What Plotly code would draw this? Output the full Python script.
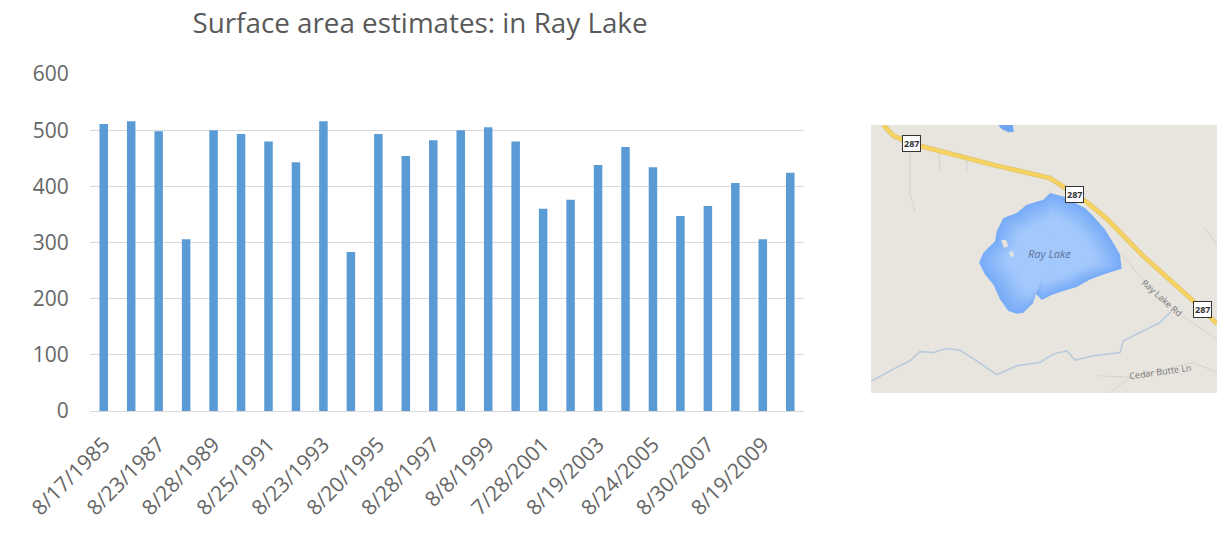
import plotly.graph_objects as go

W, H = 1217, 534
FONT = "Open Sans"

years = list(range(1985, 2011))
area = [511, 516, 498, 306, 500, 493, 480, 443, 516, 283, 493, 454, 482,
        500, 505, 480, 360, 376, 438, 470, 434, 347, 365, 406, 306, 424]
tick_years = list(range(1985, 2011, 2))
tick_labels = ["8/17/1985", "8/23/1987", "8/28/1989", "8/25/1991", "8/23/1993",
               "8/20/1995", "8/28/1997", "8/8/1999", "7/28/2001", "8/19/2003",
               "8/24/2005", "8/30/2007", "8/19/2009"]

# Inset map outlines, in map units
lake_x = [570, 610, 640, 675, 700, 735, 760, 780, 785, 730, 690, 650, 610, 575, 545, 525, 515,
          520, 490, 470, 445, 420, 400, 375, 357, 370, 405, 410, 430, 470, 500, 525, 550, 570]
lake_y = [235, 245, 262, 280, 305, 345, 385, 420, 463, 480, 495, 518, 530, 542, 557, 535, 540,
          565, 595, 598, 590, 555, 510, 480, 445, 415, 380, 350, 310, 295, 270, 262, 255, 235]
road_x = [70, 100, 150, 250, 400, 570, 610, 680, 740, 850, 1000, 1071]
road_y = [30, 62, 85, 112, 150, 190, 215, 262, 312, 425, 560, 628]
river_x = [33, 100, 150, 180, 220, 260, 300, 350, 410, 470, 540, 580, 620, 645, 700, 780, 790, 850, 900, 935]
river_y = [802, 765, 740, 712, 715, 703, 708, 740, 782, 755, 745, 720, 710, 738, 725, 715, 680, 650, 625, 590]
side_roads = [
    ([150, 150, 165], [90, 240, 290]),
    ([237, 240], [110, 165]),
    ([320, 320], [130, 175]),
    ([785, 860, 960, 1071], [420, 510, 600, 675]),
    ([1030, 1071], [335, 390]),
    ([715, 810, 900, 1000, 1071], [785, 790, 770, 745, 775]),
    ([750, 810], [837, 790]),
]
pond_x = [415, 458, 462, 445, 425, 415]
pond_y = [30, 30, 50, 52, 42, 30]
islands = [([423, 438, 445, 432, 423], [378, 375, 395, 400, 378]),
           ([447, 458, 462, 452, 447], [413, 410, 425, 427, 413])]
shield_x = [155, 643, 1027]
shield_y = [86, 240, 587]
shield_text = "287"

MAP_BG = "#e8e5df"
fig = go.Figure()

fig.add_trace(go.Bar(x=years, y=area, width=0.31, marker=dict(color="#5b9bd5", line_width=0),
                     hoverinfo="x+y", showlegend=False))


def map_line(x, y, color, width):
    fig.add_trace(go.Scatter(x=x, y=y, xaxis="x2", yaxis="y2", mode="lines", hoverinfo="skip",
                             line=dict(color=color, width=width), showlegend=False))


def map_fill(x, y, color):
    fig.add_trace(go.Scatter(x=x, y=y, xaxis="x2", yaxis="y2", mode="lines", fill="toself",
                             fillcolor=color, hoverinfo="skip", line=dict(color=color, width=0),
                             showlegend=False))


for sx, sy in side_roads:
    map_line(sx, sy, "#d4d2cc", 1)
map_line(river_x, river_y, "#b6c9da", 1.5)
map_fill(pond_x, pond_y, "#6fa5f2")

# lake: nested outlines give the soft lighter centre
cx, cy = 575, 420
steps = 14
for i in range(steps):
    scale = 1 - i / steps * 0.8
    t = min(1.0, i / (steps * 0.45))
    col = f"rgb({int(122 + 41 * t)},{int(173 + 27 * t)},{int(248 + 4 * t)})"
    map_fill([cx + (v - cx) * scale for v in lake_x], [cy + (v - cy) * scale for v in lake_y], col)
for ix, iy in islands:
    map_fill(ix, iy, MAP_BG)

map_line(road_x, road_y, "#e3c878", 5)
map_line(road_x, road_y, "#f8d35e", 3)

annotations = [
    dict(x=568, y=418, xref="x2", yref="y2", text="<i>Ray Lake</i>", showarrow=False,
         font=dict(family=FONT, size=11, color="#5d7398")),
    dict(x=905, y=550, xref="x2", yref="y2", text="Ray Lake Rd", showarrow=False, textangle=42,
         font=dict(family=FONT, size=9, color="#777777")),
    dict(x=902, y=773, xref="x2", yref="y2", text="Cedar Butte Ln", showarrow=False, textangle=-8,
         font=dict(family=FONT, size=9, color="#777777")),
]
for sx, sy in zip(shield_x, shield_y):
    annotations.append(dict(x=sx, y=sy, xref="x2", yref="y2", text=f"<b>{shield_text}</b>", showarrow=False,
                            bgcolor="white", bordercolor="#333333", borderwidth=1, borderpad=1,
                            font=dict(family=FONT, size=9, color="#333333")))

fig.update_layout(
    width=W, height=H, margin=dict(l=0, r=0, t=0, b=0, autoexpand=False),
    paper_bgcolor="white", plot_bgcolor="white", showlegend=False,
    font=dict(family=FONT, color="#595959"),
    title=dict(text="Surface area estimates: in Ray Lake", x=420 / W, xanchor="center",
               y=1 - 23 / H, yanchor="middle", automargin=False,
               font=dict(family=FONT, size=27.8, color="#595959")),
    xaxis=dict(domain=[90 / W, 804 / W], range=[1984.5, 2010.5], tickmode="array",
               tickvals=tick_years, ticktext=tick_labels, tickangle=-45, showgrid=False,
               showline=True, linecolor="#d9d9d9", linewidth=1, ticks="outside", ticklen=12,
               tickcolor="rgba(0,0,0,0)", zeroline=False, automargin=False,
               tickfont=dict(family=FONT, size=21, color="#666666"), fixedrange=True),
    yaxis=dict(domain=[1 - 411 / H, 1 - 74 / H], range=[0, 600], tickvals=[0, 100, 200, 300, 400, 500, 600],
               gridcolor="#d9d9d9", gridwidth=1, zeroline=False, ticks="outside", ticklen=16,
               tickcolor="rgba(0,0,0,0)", automargin=False,
               tickfont=dict(family=FONT, size=21, color="#666666"), fixedrange=True),
    xaxis2=dict(domain=[871 / W, 1], range=[33, 1071], anchor="y2", visible=False, fixedrange=True),
    yaxis2=dict(domain=[1 - 393 / H, 1 - 125 / H], range=[837, 30], anchor="x2", visible=False, fixedrange=True),
    shapes=[dict(type="rect", xref="paper", yref="paper", x0=871 / W, x1=1, y0=1 - 393 / H, y1=1 - 125 / H,
                 fillcolor=MAP_BG, line_width=0, layer="below")],
    annotations=annotations,
)
fig.write_html("out.html", config={"displayModeBar": False},
               post_script="document.body.style.margin='0';document.documentElement.style.overflow='hidden';")
